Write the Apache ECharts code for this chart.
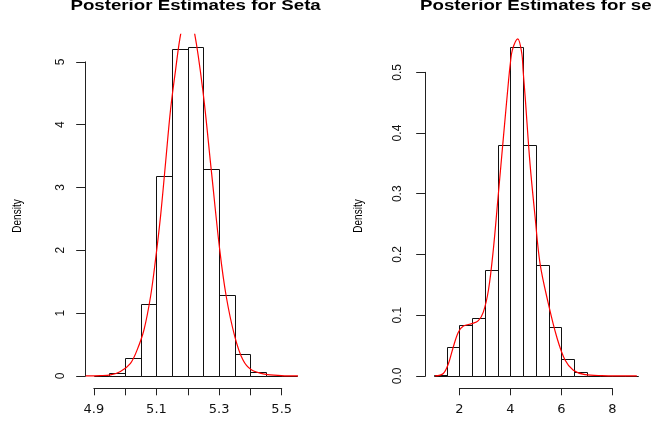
<!DOCTYPE html>
<html><head><meta charset="utf-8">
<script src="https://cdn.jsdelivr.net/npm/echarts@6/dist/echarts.min.js"></script>
<style>html,body{margin:0;padding:0;background:#fff}#c{width:652px;height:424px}</style>
</head><body><div id="c"></div>
<script>
// ---------- data ----------
const leftTitle = 'Posterior Estimates for Seta';
const rightTitle = 'Posterior Estimates for se';
const yTitle = 'Density';

const leftBreaks = [4.9, 4.95, 5.0, 5.05, 5.1, 5.15, 5.2, 5.25, 5.3, 5.35, 5.4, 5.45, 5.5, 5.55];
const leftDensity = [0, 0.04, 0.28, 1.146, 3.185, 5.20, 5.23, 3.29, 1.28, 0.35, 0.069, 0, 0];
const leftCurveX = [4.874, 4.92, 4.953, 4.985, 5.017, 5.038, 5.060, 5.081, 5.097, 5.113, 5.129, 5.145, 5.161, 5.180, 5.200, 5.2197, 5.248, 5.275, 5.302, 5.323, 5.350, 5.376, 5.403, 5.446, 5.499, 5.552];
const leftCurveY = [0.0, 0.005, 0.016, 0.07, 0.20, 0.41, 0.73, 1.26, 1.85, 2.54, 3.39, 4.24, 4.87, 5.51, 5.78, 5.51, 4.55, 3.28, 2.01, 1.26, 0.63, 0.255, 0.096, 0.027, 0.005, 0.0];
const leftXTicks = [4.9, 5.0, 5.1, 5.2, 5.3, 5.4, 5.5];
const leftXLabels = ['4.9', '5.1', '5.3', '5.5'];
const leftYTicks = [0, 1, 2, 3, 4, 5];

const rightBreaks = [1, 1.5, 2, 2.5, 3, 3.5, 4, 4.5, 5, 5.5, 6, 6.5, 7, 7.5, 8, 8.5, 9];
const rightDensity = [0.002, 0.047, 0.0835, 0.096, 0.175, 0.3795, 0.541, 0.3795, 0.183, 0.080, 0.028, 0.0066, 0, 0, 0, 0];
const rightCurveX = [1.047, 1.37, 1.57, 1.765, 1.96, 2.16, 2.49, 2.745, 2.94, 3.14, 3.33, 3.53, 3.73, 3.92, 4.0, 4.08, 4.29, 4.45, 4.5, 4.58, 4.77, 4.97, 5.165, 5.49, 5.82, 6.145, 6.47, 6.93, 7.58, 8.96];
const rightCurveY = [0, 0.004, 0.020, 0.048, 0.072, 0.082, 0.086, 0.091, 0.105, 0.141, 0.207, 0.300, 0.394, 0.482, 0.515, 0.537, 0.555, 0.531, 0.503, 0.460, 0.350, 0.262, 0.185, 0.119, 0.064, 0.026, 0.0094, 0.002, 0.0005, 0];
const rightXTicks = [2, 4, 6, 8];
const rightXLabels = ['2', '4', '6', '8'];
const rightYTicks = [0, 0.1, 0.2, 0.3, 0.4, 0.5];

// ---------- layout ----------
const panels = [
  {gl: 85.7, gt: 34.3, gw: 219.8, gh: 354.7, xmin: 4.874, xmax: 5.576, ymin: -0.2092, ymax: 5.4392,
   breaks: leftBreaks, dens: leftDensity, cx: leftCurveX, cy: leftCurveY,
   xt: leftXTicks, xl: leftXLabels, yt: leftYTicks, ydec: 0, title: leftTitle, ylabX: 18, ymargin: 19.5},
  {gl: 425.7, gt: 34.3, gw: 220.3, gh: 354.7, xmin: 0.68, xmax: 9.32, ymin: -0.02164, ymax: 0.56264,
   breaks: rightBreaks, dens: rightDensity, cx: rightCurveX, cy: rightCurveY,
   xt: rightXTicks, xl: rightXLabels, yt: rightYTicks, ydec: 1, title: rightTitle, ylabX: 358.5, ymargin: 22}
];
const axisY = 388.3;
const FONT = '"Liberation Sans", Arial, Helvetica, sans-serif';
const AXC = '#222';

const grids = [], xAxes = [], yAxes = [], series = [], graphics = [];

panels.forEach((p, k) => {
  const px = v => p.gl + (v - p.xmin) / (p.xmax - p.xmin) * p.gw;
  const py = v => p.gt + (p.ymax - v) / (p.ymax - p.ymin) * p.gh;
  const base = grids.length;
  // data grid
  grids.push({left: p.gl, top: p.gt, width: p.gw, height: p.gh});
  xAxes.push({gridIndex: base, type: 'value', min: p.xmin, max: p.xmax, show: false});
  yAxes.push({gridIndex: base, type: 'value', min: p.ymin, max: p.ymax, show: false});
  // y-axis grid
  const y0 = py(p.yt[0]), y1 = py(p.yt[p.yt.length - 1]);
  grids.push({left: p.gl, top: y1, width: p.gw, height: y0 - y1});
  xAxes.push({gridIndex: base + 1, type: 'value', show: false, min: 0, max: 1});
  yAxes.push({gridIndex: base + 1, type: 'value', position: 'left',
    min: p.yt[0], max: p.yt[p.yt.length - 1], interval: p.yt[1] - p.yt[0],
    axisLine: {show: true, lineStyle: {color: AXC, width: 1}},
    axisTick: {show: true, length: 9.5, lineStyle: {color: AXC, width: 1}},
    splitLine: {show: false},
    axisLabel: {rotate: 90, margin: p.ymargin, color: '#111', fontFamily: FONT, fontSize: 12,
      formatter: v => v.toFixed(p.ydec)}
  });
  // x-axis grid
  const x0 = px(p.xt[0]), x1 = px(p.xt[p.xt.length - 1]);
  grids.push({left: x0, width: x1 - x0, top: axisY - 20, height: 20});
  xAxes.push({gridIndex: base + 2, type: 'value', position: 'bottom',
    min: p.xt[0], max: p.xt[p.xt.length - 1], interval: p.xt[1] - p.xt[0],
    axisLine: {show: true, onZero: false, lineStyle: {color: AXC, width: 1}},
    axisTick: {show: true, length: 7, lineStyle: {color: AXC, width: 1}},
    splitLine: {show: false},
    axisLabel: {margin: 15, color: '#111', fontFamily: '"DejaVu Sans", sans-serif', fontSize: 13,
      showMinLabel: true, showMaxLabel: true,
      formatter: v => { const s = (p.ydec === 0 ? v.toFixed(1) : String(Math.round(v))); return p.xl.indexOf(s) >= 0 ? s : ''; }}
  });
  yAxes.push({gridIndex: base + 2, type: 'value', show: false, min: 0, max: 1});

  // histogram
  series.push({
    type: 'custom', xAxisIndex: base, yAxisIndex: base, clip: false, silent: true,
    encode: {x: [0, 1], y: 2},
    data: p.dens.map((d, i) => [p.breaks[i], p.breaks[i + 1], d]),
    renderItem: (params, api) => {
      const a = api.coord([api.value(0), 0]);
      const b = api.coord([api.value(1), api.value(2)]);
      const xa = Math.round(a[0]) + 0.5, xb = Math.round(b[0]) + 0.5;
      const ya = Math.round(a[1]) + 0.5, yb = Math.round(b[1]) + 0.5;
      return {type: 'rect', shape: {x: xa, y: yb, width: xb - xa, height: ya - yb},
        style: {fill: 'rgba(0,0,0,0)', stroke: '#111', lineWidth: 1}};
    }
  });
  // density curve
  series.push({
    type: 'line', xAxisIndex: base, yAxisIndex: base, clip: true, silent: true,
    showSymbol: false, symbol: 'none', smooth: 0.35,
    lineStyle: {color: '#ff0000', width: 1.2},
    data: p.cx.map((x, i) => [x, p.cy[i]])
  });

  // titles
  graphics.push({type: 'text', x: p.gl + p.gw / 2, y: 5.8, scaleY: 0.8,
    style: {text: p.title, font: 'bold 18.7px ' + FONT, fill: '#000', textAlign: 'center', textVerticalAlign: 'middle'}});
  graphics.push({type: 'text', x: p.ylabX, y: 216, rotation: Math.PI / 2, scaleX: 0.8,
    style: {text: yTitle, font: '12.5px ' + FONT, fill: '#000', textAlign: 'center', textVerticalAlign: 'middle'}});
});

const chart = echarts.init(document.getElementById('c'), null, {renderer: 'canvas'});
chart.setOption({
  animation: false,
  backgroundColor: '#fff',
  grid: grids, xAxis: xAxes, yAxis: yAxes, series: series, graphic: graphics
});
</script>
</body></html>
